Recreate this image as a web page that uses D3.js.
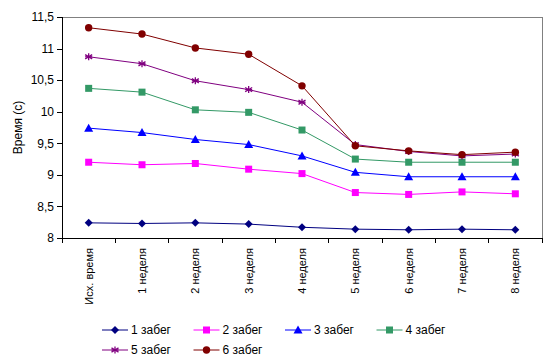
<!DOCTYPE html>
<html><head><meta charset="utf-8">
<script src="https://cdn.jsdelivr.net/npm/d3@7"></script>
<style>body{margin:0;background:#fff}svg{display:block;font-family:"Liberation Sans",Arial,sans-serif}</style>
</head><body><svg id="c" width="550" height="360"></svg>
<script>
const categories = ["Исх. время","1 неделя","2 неделя","3 неделя","4 неделя","5 неделя","6 неделя","7 неделя","8 неделя"];
const seriesNames = ["1 забег","2 забег","3 забег","4 забег","5 забег","6 забег"];
const run1 = [8.24,8.23,8.24,8.22,8.17,8.14,8.13,8.14,8.13];
const run2 = [9.20,9.16,9.18,9.09,9.02,8.72,8.69,8.73,8.70];
const run3 = [9.74,9.67,9.56,9.48,9.30,9.04,8.97,8.97,8.97];
const run4 = [10.37,10.31,10.03,9.99,9.71,9.25,9.20,9.20,9.20];
const run5 = [10.87,10.76,10.49,10.35,10.15,9.48,9.37,9.30,9.33];
const run6 = [11.33,11.23,11.01,10.91,10.41,9.46,9.38,9.32,9.36];
const yTicks = [8,8.5,9,9.5,10,10.5,11,11.5];
const colors = ["#000080","#FF00FF","#0000FF","#339966","#800080","#800000"];
const symbols = ["diamond","square","triangle","square","star","circle"];
const allSeries = [run1,run2,run3,run4,run5,run6];

const svg = d3.select("#c");
const L=62,R=542,T=17,B=238;
const x = d3.scaleBand().domain(categories).range([L,R]);
const y = d3.scaleLinear().domain([8,11.5]).range([B,T]);
const fmt = v => String(v).replace(".",",");

svg.append("path").attr("d",`M${L},${T}H${R}V${B}`).attr("fill","none").attr("stroke","#808080").attr("stroke-width",1).attr("shape-rendering","crispEdges");

const ya = svg.append("g").attr("transform",`translate(${L},0)`)
  .call(d3.axisLeft(y).tickValues(yTicks).tickFormat(fmt).tickSize(5).tickPadding(3));
ya.selectAll("path,line").attr("stroke","#000").attr("shape-rendering","crispEdges");
ya.selectAll("text").attr("font-size",12).attr("fill","#000").attr("font-family","Liberation Sans, Arial, sans-serif");

const xa = svg.append("g").attr("transform",`translate(0,${B})`)
  .call(d3.axisBottom(x).tickSize(0).tickSizeOuter(0));
xa.select("path").attr("stroke","#000").attr("shape-rendering","crispEdges");
xa.selectAll("text").attr("font-size",11).attr("fill","#000").attr("font-family","Liberation Sans, Arial, sans-serif")
  .attr("text-anchor","end").attr("dx","-10").attr("dy","0.35em").attr("y",0).attr("x",0)
  .attr("transform",`translate(${x.bandwidth()/2},0) rotate(-90)`);
xa.selectAll(".tick").attr("transform",d=>`translate(${x(d)},0)`);
const bounds = categories.map(c=>x(c)).concat([R]);
xa.selectAll(".bnd").data(bounds).enter().append("line").attr("class","bnd")
  .attr("x1",d=>d).attr("x2",d=>d).attr("y1",0).attr("y2",5).attr("stroke","#000").attr("shape-rendering","crispEdges");

svg.append("text").attr("transform",`translate(22,${(T+B)/2}) rotate(-90)`).attr("text-anchor","middle")
  .attr("font-size",12).text("Время (с)");

const cx = c => x(c)+x.bandwidth()/2;
function drawMarker(g,sym,color,px,py){
  if(sym==="star"){
    const r=3.5;
    [[0,-r,0,r],[-r,-r*0.6,r,r*0.6],[-r,r*0.6,r,-r*0.6]].forEach(q=>g.append("line")
      .attr("x1",px+q[0]).attr("y1",py+q[1]).attr("x2",px+q[2]).attr("y2",py+q[3]).attr("stroke",color).attr("stroke-width",1.3));
    g.append("line").attr("x1",px-r).attr("y1",py).attr("x2",px+r).attr("y2",py).attr("stroke",color).attr("stroke-width",1.3);
    return;
  }
  if(sym==="diamond"){
    const r=4;
    g.append("path").attr("d",`M${px},${py-r}L${px+r},${py}L${px},${py+r}L${px-r},${py}Z`).attr("fill",color);
    return;
  }
  if(sym==="square"){
    g.append("rect").attr("x",px-3.5).attr("y",py-3.5).attr("width",7).attr("height",7).attr("fill",color);
    return;
  }
  if(sym==="triangle"){
    g.append("path").attr("d",`M${px},${py-4.5}L${px+4.5},${py+3.5}L${px-4.5},${py+3.5}Z`).attr("fill",color);
    return;
  }
  g.append("circle").attr("cx",px).attr("cy",py).attr("r",3.7).attr("fill",color);
}
const line = d3.line().x((d,i)=>cx(categories[i])).y(d=>y(d));
allSeries.forEach((s,k)=>{
  const g = svg.append("g");
  g.append("path").attr("d",line(s)).attr("fill","none").attr("stroke",colors[k]).attr("stroke-width",1);
  s.forEach((v,i)=>drawMarker(g,symbols[k],colors[k],cx(categories[i]),y(v)));
});

const lg = svg.append("g");
seriesNames.forEach((n,k)=>{
  const col=k%4,row=Math.floor(k/4);
  const lx=102+col*91.5, ly=330+row*20;
  lg.append("line").attr("x1",lx).attr("x2",lx+26).attr("y1",ly).attr("y2",ly).attr("stroke",colors[k]).attr("stroke-width",1);
  drawMarker(lg,symbols[k],colors[k],lx+13,ly);
  lg.append("text").attr("x",lx+29).attr("y",ly).attr("dy","0.35em").attr("font-size",12).text(n);
});
</script></body></html>
